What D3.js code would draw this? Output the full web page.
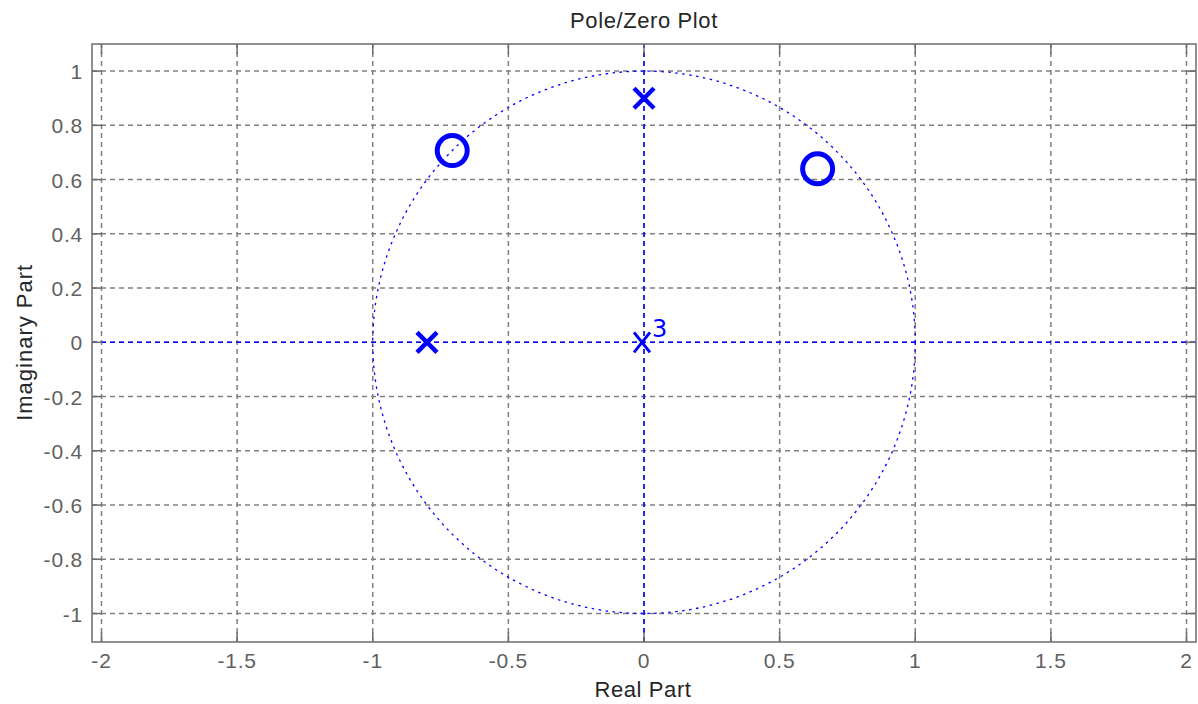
<!DOCTYPE html>
<html>
<head>
<meta charset="utf-8">
<script src="https://cdn.jsdelivr.net/npm/d3@7"></script>
<style>
  html, body { margin: 0; padding: 0; background: #fff; }
  svg { display: block; }
</style>
</head>
<body>
<div id="graphic"></div>
<script>
'use strict';

// zeros and poles
const zeroRe = [-0.707, 0.64];
const zeroIm = [0.707, 0.64];
const poleRe = [0, -0.8];
const poleIm = [0.9, 0];
const originPoles = 3; // multiplicity at the origin

const xTicks = [-2, -1.5, -1, -0.5, 0, 0.5, 1, 1.5, 2];
const yTicks = [-1, -0.8, -0.6, -0.4, -0.2, 0, 0.2, 0.4, 0.6, 0.8, 1];
const xDomain = [-2.035, 2.035];
const yDomain = [-1.105, 1.1];

(function (d3) {
  const width = 1198;
  const height = 704;
  const margin = { top: 44, right: 2, bottom: 62, left: 92 };
  const axisColor = `#6b6b6b`;
  const blue = `#0000ff`;

  const x = d3.scaleLinear().domain(xDomain).range([margin.left, width - margin.right]);
  const y = d3.scaleLinear().domain(yDomain).range([height - margin.bottom, margin.top]);

  const svg = d3
    .select(`div#graphic`)
    .append(`svg`)
    .attr(`width`, width)
    .attr(`height`, height)
    .attr(`font-family`, `Arial, "Liberation Sans", sans-serif`);

  // Grid
  const grid = svg.append(`g`).attr(`stroke`, `#808080`).attr(`stroke-width`, 1.5).attr(`stroke-dasharray`, `5,4`);
  grid
    .selectAll(`line.vx`)
    .data(xTicks)
    .join(`line`)
    .attr(`x1`, (d) => x(d))
    .attr(`x2`, (d) => x(d))
    .attr(`y1`, y.range()[0])
    .attr(`y2`, y.range()[1]);
  grid
    .selectAll(`line.hy`)
    .data(yTicks)
    .join(`line`)
    .attr(`y1`, (d) => y(d))
    .attr(`y2`, (d) => y(d))
    .attr(`x1`, x.range()[0])
    .attr(`x2`, x.range()[1]);

  // Axes through the origin
  const ref = svg.append(`g`).attr(`stroke`, blue).attr(`stroke-width`, 1.5).attr(`fill`, `none`);
  ref
    .append(`line`)
    .attr(`x1`, x.range()[0])
    .attr(`x2`, x.range()[1])
    .attr(`y1`, y(0))
    .attr(`y2`, y(0))
    .attr(`stroke-dasharray`, `5,4`);
  ref
    .append(`line`)
    .attr(`x1`, x(0))
    .attr(`x2`, x(0))
    .attr(`y1`, y.range()[0])
    .attr(`y2`, y.range()[1])
    .attr(`stroke-dasharray`, `5,4`);

  // Unit circle
  ref
    .append(`ellipse`)
    .attr(`cx`, x(0))
    .attr(`cy`, y(0))
    .attr(`rx`, x(1) - x(0))
    .attr(`ry`, y(0) - y(1))
    .attr(`stroke-width`, 1.3)
    .attr(`stroke-dasharray`, `2.5,4.5`);

  // Box + inward ticks
  const box = svg.append(`g`).attr(`stroke`, axisColor).attr(`stroke-width`, 1.5).attr(`fill`, `none`);
  box
    .append(`rect`)
    .attr(`x`, x.range()[0])
    .attr(`y`, y.range()[1])
    .attr(`width`, x.range()[1] - x.range()[0])
    .attr(`height`, y.range()[0] - y.range()[1]);
  const tl = 10;
  xTicks.forEach((d) => {
    box.append(`line`).attr(`x1`, x(d)).attr(`x2`, x(d)).attr(`y1`, y.range()[0]).attr(`y2`, y.range()[0] - tl);
    box.append(`line`).attr(`x1`, x(d)).attr(`x2`, x(d)).attr(`y1`, y.range()[1]).attr(`y2`, y.range()[1] + tl);
  });
  yTicks.forEach((d) => {
    box.append(`line`).attr(`y1`, y(d)).attr(`y2`, y(d)).attr(`x1`, x.range()[0]).attr(`x2`, x.range()[0] + tl);
    box.append(`line`).attr(`y1`, y(d)).attr(`y2`, y(d)).attr(`x1`, x.range()[1]).attr(`x2`, x.range()[1] - tl);
  });

  // Tick labels
  const fmt = (d) => d3.format(`~g`)(d).replace(`−`, `-`);
  svg
    .append(`g`)
    .attr(`fill`, `#606060`)
    .attr(`font-size`, 21)
    .attr(`letter-spacing`, 0.8)
    .attr(`text-anchor`, `middle`)
    .selectAll(`text`)
    .data(xTicks)
    .join(`text`)
    .attr(`x`, (d) => x(d))
    .attr(`y`, y.range()[0] + 26)
    .text(fmt);
  svg
    .append(`g`)
    .attr(`fill`, `#606060`)
    .attr(`font-size`, 21)
    .attr(`letter-spacing`, 0.8)
    .attr(`text-anchor`, `end`)
    .selectAll(`text`)
    .data(yTicks)
    .join(`text`)
    .attr(`x`, x.range()[0] - 9)
    .attr(`y`, (d) => y(d) + 8)
    .text(fmt);

  // Titles
  svg
    .append(`text`)
    .attr(`x`, x(0))
    .attr(`y`, 28)
    .attr(`text-anchor`, `middle`)
    .attr(`font-size`, 22)
    .attr(`letter-spacing`, 0.6)
    .attr(`fill`, `#262626`)
    .text(`Pole/Zero Plot`);
  svg
    .append(`text`)
    .attr(`x`, x(0) - 1)
    .attr(`y`, 697)
    .attr(`text-anchor`, `middle`)
    .attr(`font-size`, 22)
    .attr(`letter-spacing`, 0.6)
    .attr(`fill`, `#262626`)
    .text(`Real Part`);
  svg
    .append(`text`)
    .attr(`transform`, `translate(32,${y(0)}) rotate(-90)`)
    .attr(`text-anchor`, `middle`)
    .attr(`font-size`, 22)
    .attr(`letter-spacing`, 1)
    .attr(`fill`, `#262626`)
    .text(`Imaginary Part`);

  // Zeros
  svg
    .append(`g`)
    .attr(`fill`, `none`)
    .attr(`stroke`, blue)
    .attr(`stroke-width`, 5)
    .selectAll(`circle`)
    .data(zeroRe.map((re, i) => ({ re, im: zeroIm[i] })))
    .join(`circle`)
    .attr(`cx`, (d) => x(d.re))
    .attr(`cy`, (d) => y(d.im))
    .attr(`r`, 15);

  // Poles (single)
  const s = 10;
  svg
    .append(`g`)
    .attr(`stroke`, blue)
    .attr(`stroke-width`, 4.5)
    .selectAll(`path`)
    .data(poleRe.map((re, i) => ({ re, im: poleIm[i] })))
    .join(`path`)
    .attr(`d`, (d) => {
      const cx = x(d.re);
      const cy = y(d.im);
      return `M${cx - s},${cy - s}L${cx + s},${cy + s}M${cx - s},${cy + s}L${cx + s},${cy - s}`;
    });

  // Multiple pole at the origin
  const ox = x(0) - 2;
  const oy = y(0);
  svg
    .append(`path`)
    .attr(`stroke`, blue)
    .attr(`stroke-width`, 3)
    .attr(`d`, `M${ox - 8},${oy - 10}L${ox + 8},${oy + 10}M${ox - 8},${oy + 10}L${ox + 8},${oy - 10}`);
  svg
    .append(`text`)
    .attr(`fill`, blue)
    .attr(`font-family`, `"DejaVu Sans", Verdana, sans-serif`)
    .attr(`x`, x(0) + 8)
    .attr(`y`, y(0) - 5)
    .attr(`font-size`, 24)
    .text(originPoles);
})(d3);
</script>
</body>
</html>
